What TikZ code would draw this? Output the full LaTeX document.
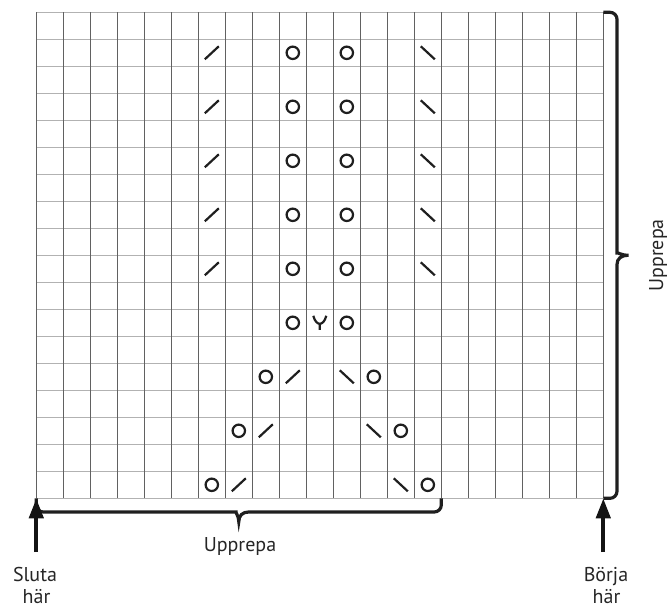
\documentclass[tikz,border=0pt]{standalone}
\usepackage{fontspec}
\setmainfont{PT Sans}
\usetikzlibrary{arrows.meta}
\newcommand{\kO}[2]{\draw[sym] (#1+0.5,#2+0.5) circle[radius=6.2pt];}
\newcommand{\kL}[2]{\draw[sym,shift={(#1+0.5,#2+0.5)}] (-7pt,-6.5pt) -- (7pt,6.5pt);}
\newcommand{\kR}[2]{\draw[sym,shift={(#1+0.5,#2+0.5)}] (-7pt,6.5pt) -- (7pt,-6.5pt);}
\newcommand{\kY}[2]{\draw[sym,shift={(#1+0.5,#2+0.5)}] (0pt,-7pt) -- (0pt,-1pt) (-6.5pt,7pt) .. controls (-5pt,1pt) and (-2pt,-1pt) .. (0pt,-1pt) .. controls (2pt,-1pt) and (5pt,1pt) .. (6.5pt,7pt);}
\begin{document}
\begin{tikzpicture}[x=1pt,y=-1pt,
  hline/.style={line width=1.5pt, draw=black!30},
  vline/.style={line width=0.9pt, draw=black!62},
  sym/.style={line width=2.2pt, draw=black!88},
  brace/.style={line width=3.2pt, draw=black!88},
  upar/.style={line width=4.2pt, draw=black!92, -{Triangle[width=14pt,length=20pt]}},
  lbl/.style={font=\fontsize{20}{21}\selectfont, text=black!85, inner sep=0pt, anchor=base}]
\useasboundingbox (0,0) rectangle (670,610);
\fill[white] (0,0) rectangle (670,610);
\begin{scope}[shift={(36.3,12.3)}, x=27pt, y=-27pt]
  \foreach \r in {0,...,18} \draw[hline] (0,\r) -- (21,\r);
  \foreach \c in {0,...,21} \draw[vline] (\c,0) -- (\c,18);
  \coordinate (gTR) at (21,0);
  \coordinate (gBL) at (0,18);
  \coordinate (gBR) at (21,18);
  \coordinate (gB15) at (15,18);
  \foreach \r in {1,3,5,7,9} {\kL{6}{\r} \kO{9}{\r} \kO{11}{\r} \kR{14}{\r}}
  \kO{9}{11} \kY{10}{11} \kO{11}{11}
  \kO{8}{13} \kL{9}{13} \kR{11}{13} \kO{12}{13}
  \kO{7}{15} \kL{8}{15} \kR{12}{15} \kO{13}{15}
  \kO{6}{17} \kL{7}{17} \kR{13}{17} \kO{14}{17}
\end{scope}
% right brace
\draw[brace] (gTR) [rounded corners=7pt] -- (617,12.3) -- (617,246) [sharp corners]
  .. controls (617,252) and (621,255.3) .. (628.5,255.3)
  .. controls (621,255.3) and (617,258.6) .. (617,264.6)
  [rounded corners=7pt] -- (617,498.3) -- (gBR);
% bottom brace
\draw[brace] (gBL) [rounded corners=7pt] -- (36.3,512) -- (229,512) [sharp corners]
  .. controls (235,512) and (238.8,515.5) .. (238.8,521.7)
  .. controls (238.8,515.5) and (242.6,512) .. (248.6,512)
  [rounded corners=7pt] -- (441.3,512) -- (gB15);
% arrows
\coordinate (endA) at (36.3,552);
\coordinate (startA) at (603.3,552);
\draw[upar] (endA) -- (gBL);
\draw[upar] (startA) -- (gBR);
% labels
\node[lbl] (repB) at (240,551.7) {Upprepa};
\node[lbl, rotate=90] (repR) at (663,255.3) {Upprepa};
\node[lbl] (sluta1) at (35,581.7) {Sluta};
\node[lbl] (sluta2) at (36.5,603) {här};
\node[lbl] (borja1) at (606,581.7) {Börja};
\node[lbl] (borja2) at (606.5,603) {här};
\end{tikzpicture}
\end{document}
